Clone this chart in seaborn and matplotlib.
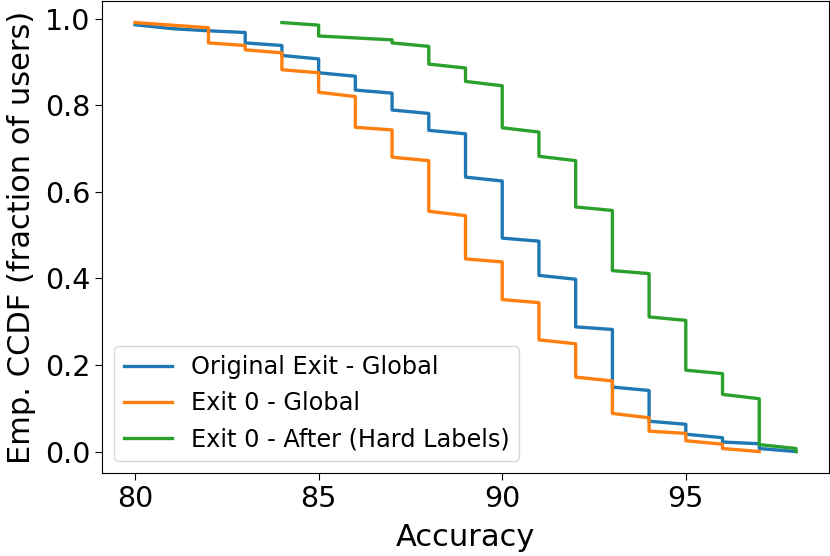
import numpy as np
import pandas as pd
import seaborn as sns
import matplotlib
matplotlib.use("Agg")
import matplotlib.pyplot as plt

blue_acc = [80, 81, 82, 83, 84, 85, 86, 87, 88, 89, 90, 91, 92, 93, 94, 95, 96, 97, 98]
blue_hi = [0.986, 0.977, 0.972, 0.968, 0.938, 0.907, 0.867, 0.828, 0.781, 0.734,
           0.625, 0.486, 0.398, 0.282, 0.141, 0.063, 0.032, 0.018, 0.0]
blue_lo = [0.986, 0.977, 0.972, 0.944, 0.915, 0.875, 0.835, 0.789, 0.742, 0.634,
           0.493, 0.407, 0.288, 0.149, 0.070, 0.040, 0.022, 0.007, 0.0]

orange_acc = [80, 82, 83, 84, 85, 86, 87, 88, 89, 90, 91, 92, 93, 94, 95, 96, 97]
orange_hi = [0.991, 0.979, 0.938, 0.921, 0.875, 0.820, 0.743, 0.672, 0.545, 0.438,
             0.344, 0.249, 0.163, 0.078, 0.042, 0.017, 0.0]
orange_lo = [0.991, 0.944, 0.928, 0.882, 0.830, 0.749, 0.680, 0.555, 0.445, 0.351,
             0.258, 0.172, 0.088, 0.047, 0.025, 0.007, 0.0]

green_acc = [84, 85, 87, 88, 89, 90, 91, 92, 93, 94, 95, 96, 97, 98]
green_hi = [0.991, 0.985, 0.951, 0.936, 0.886, 0.845, 0.738, 0.672, 0.557, 0.411,
            0.303, 0.180, 0.122, 0.007]
green_lo = [0.991, 0.960, 0.944, 0.895, 0.855, 0.748, 0.682, 0.565, 0.418, 0.311,
            0.188, 0.132, 0.016, 0.0]

labels = ["Original Exit - Global", "Exit 0 - Global", "Exit 0 - After (Hard Labels)"]


def steps(name, acc, hi, lo):
    x = np.repeat(acc, 2)
    y = np.column_stack([hi, lo]).ravel()
    return pd.DataFrame({"series": name, "acc": x, "ccdf": y})


df = pd.concat([steps(labels[0], blue_acc, blue_hi, blue_lo),
                steps(labels[1], orange_acc, orange_hi, orange_lo),
                steps(labels[2], green_acc, green_hi, green_lo)], ignore_index=True)

fig = plt.figure(figsize=(8.3, 5.56), dpi=100)
ax = fig.add_axes([0.1229, 0.1493, 0.8759, 0.8487])

sns.lineplot(data=df, x="acc", y="ccdf", hue="series", hue_order=labels,
             palette=["#1f77b4", "#ff7f0e", "#2ca02c"], sort=False,
             estimator=None, linewidth=2.4, ax=ax)

ax.set_xticks([80, 85, 90, 95])
ax.set_yticks([0.0, 0.2, 0.4, 0.6, 0.8, 1.0])
ax.tick_params(labelsize=20.5, length=5)
ax.set_xlabel("Accuracy", fontsize=22, labelpad=7)
ax.set_ylabel("Emp. CCDF (fraction of users)", fontsize=22, labelpad=6)
ax.legend(loc="lower left", fontsize=17.3)

fig.savefig("out.png", dpi=100)
